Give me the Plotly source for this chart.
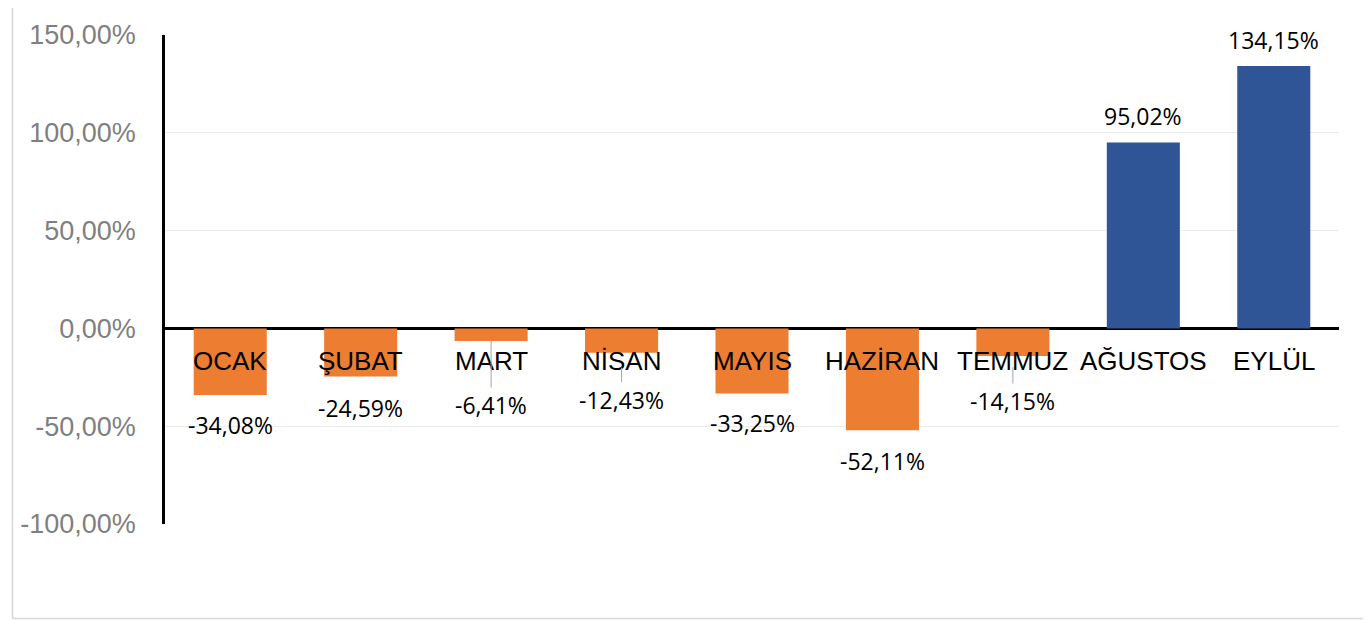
import plotly.graph_objects as go

months = ["OCAK", "ŞUBAT", "MART", "NİSAN", "MAYIS", "HAZİRAN", "TEMMUZ", "AĞUSTOS", "EYLÜL"]
values = [-34.08, -24.59, -6.41, -12.43, -33.25, -52.11, -14.15, 95.02, 134.15]
tick_vals = [-100, -50, 0, 50, 100, 150]
tick_text = ["-100,00%", "-50,00%", "0,00%", "50,00%", "100,00%", "150,00%"]

# label offsets (pixels, positive = upward) and which labels use leader lines
label_shift = [-30, -31, -64, -47, -30, -31, -45, 27, 26]
leader = [False, False, True, True, False, False, True, False, False]
leader_standoff = [0, 0, 0, 15, 0, 0, 11, 0, 0]

ORANGE = "#ED7D31"
BLUE = "#2F5597"
colors = [BLUE if v >= 0 else ORANGE for v in values]

fig = go.Figure()
fig.add_trace(go.Bar(x=months, y=values, marker=dict(color=colors, line=dict(width=0)),
                     hoverinfo="x+y"))

def fmt(v):
    return f"{v:.2f}".replace(".", ",") + "%"

annotations = []
# category labels just under the zero line
for m in months:
    annotations.append(dict(x=m, y=0, xref="x", yref="y", text=m, showarrow=False,
                            yshift=-33, yanchor="middle",
                            font=dict(family="Liberation Sans, Arial", size=26, color="#000000")))
# data labels
for m, v, s, ld, so in zip(months, values, label_shift, leader, leader_standoff):
    lab_font = dict(family="Open Sans, Noto Sans", size=23, color="#000000")
    if ld:
        annotations.append(dict(x=m, y=v, xref="x", yref="y", text=fmt(v), showarrow=True,
                                ax=0, ay=-s, arrowhead=0, arrowwidth=1, arrowcolor="#a6a6a6",
                                standoff=so, font=lab_font))
    else:
        annotations.append(dict(x=m, y=v, xref="x", yref="y", text=fmt(v), showarrow=False,
                                yshift=s, yanchor="middle", font=lab_font))

fig.update_layout(
    width=1363, height=613,
    margin=dict(l=153, r=32, t=22, b=97),
    paper_bgcolor="white", plot_bgcolor="white",
    showlegend=False,
    bargap=0.44,
    annotations=annotations,
    shapes=[dict(type="rect", xref="paper", yref="paper",
                 x0=-0.1299, x1=1.0250, y0=-0.1935, y1=1.0575,
                 line=dict(color="#d9d9d9", width=1.5), fillcolor="rgba(0,0,0,0)", layer="below")],
    xaxis=dict(showticklabels=False, showgrid=False, showline=False, zeroline=False,
               ticks="", fixedrange=True),
    yaxis=dict(range=[-100, 150], tickvals=tick_vals, ticktext=tick_text,
               showgrid=True, gridcolor="#ebebeb", gridwidth=1,
               zeroline=True, zerolinecolor="#000000", zerolinewidth=2.5,
               showline=True, linecolor="#000000", linewidth=2.5,
               ticks="outside", ticklen=21, tickcolor="rgba(0,0,0,0)",
               tickfont=dict(family="Liberation Sans, Arial", size=27, color="#7f7f7f")),
)

fig.write_html("out.html")
